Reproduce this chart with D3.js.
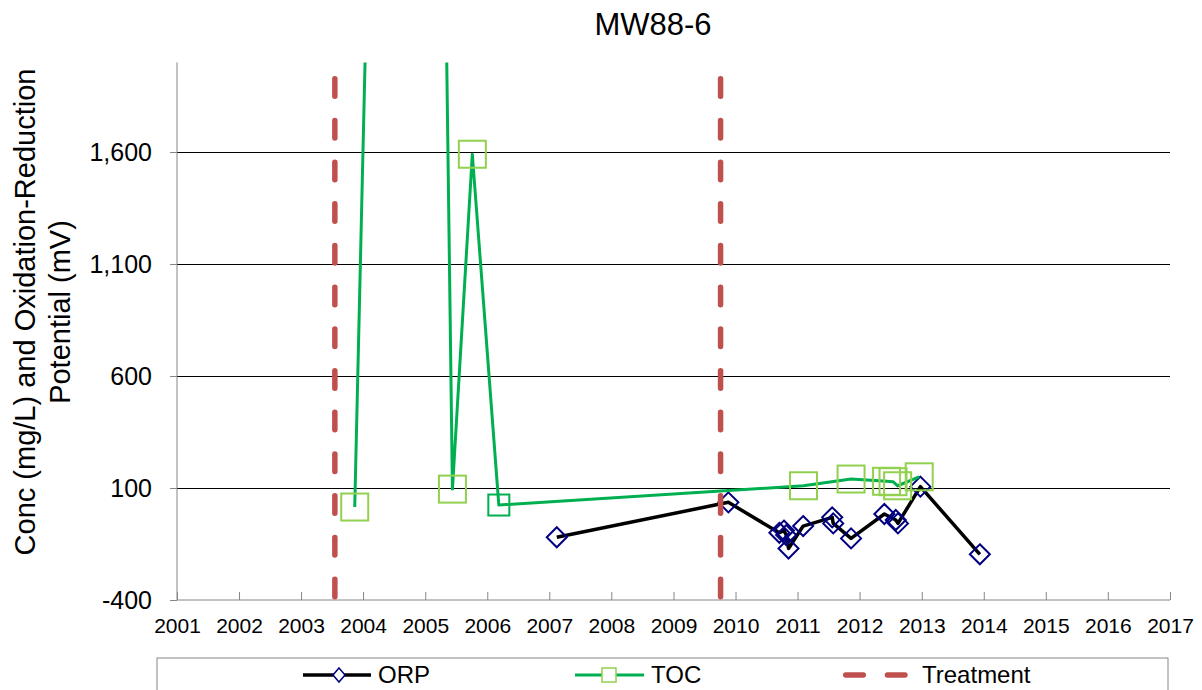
<!DOCTYPE html>
<html>
<head>
<meta charset="utf-8">
<script src="https://cdn.jsdelivr.net/npm/d3@7"></script>
<style>
  body { margin: 0; background: #fff; }
  svg { font-family: "Liberation Sans", Arial, sans-serif; }
</style>
</head>
<body>
<div id="chart"></div>
<script>
// ORP readings (mV)
const orpDates = ["2007-02-14", "2009-11-20", "2010-09-16", "2010-10-13", "2010-10-26", "2010-11-09",
    "2011-02-03", "2011-07-24", "2011-07-30", "2011-11-12", "2012-05-26", "2012-08-01",
    "2012-08-14", "2012-12-24", "2013-12-09"];
const orpValues = [-120, 36, -100, -90, -110, -170, -70, -31, -58, -125, -16, -43, -58, 106, -196];

// TOC concentrations (mg/L)
const tocDates = ["2003-11-13", "2004-11-13", "2005-06-10", "2005-10-05", "2006-03-10", "2011-02-05",
    "2011-11-12", "2012-06-08", "2012-07-16", "2012-08-12", "2012-12-17"];
const tocValues = [15, 12000, 95, 1590, 24, 110, 140, 130, 128, 110, 150];

// treatment events
const treatmentDates = ["2003-07-19", "2009-10-05"];

const yTicks = [-400, 100, 600, 1100, 1600];
const yDomain = [-400, 2000];
const xDomain = ["2001-01-01", "2017-01-01"];
const legendLabels = ["ORP", "TOC", "Treatment"];

const parse = d3.timeParse("%Y-%m-%d");
const orp = orpDates.map((d, i) => ({ date: parse(d), value: orpValues[i] }));
const toc = tocDates.map((d, i) => ({ date: parse(d), value: tocValues[i] }));

const width = 1202, height = 690;
const margin = { top: 62.4, right: 32, bottom: 90, left: 177 };
const innerW = width - margin.left - margin.right;
const innerH = height - margin.top - margin.bottom;

const svg = d3.select("#chart").append("svg")
    .attr("width", width)
    .attr("height", height);

const g = svg.append("g")
    .attr("transform", `translate(${margin.left},${margin.top})`);

const x = d3.scaleTime()
    .domain(xDomain.map(parse))
    .range([0, innerW]);

const y = d3.scaleLinear()
    .domain(yDomain)
    .range([innerH, 0]);

g.append("clipPath").attr("id", "plot-clip")
    .append("rect")
    .attr("x", -2).attr("y", 0)
    .attr("width", innerW + 4).attr("height", innerH);

// gridlines
g.append("g")
    .selectAll("line")
    .data(yTicks.filter(t => t !== yDomain[0]))
    .join("line")
    .attr("x1", 0).attr("x2", innerW)
    .attr("y1", d => y(d)).attr("y2", d => y(d))
    .attr("stroke", "#000")
    .attr("stroke-width", 1)
    .attr("shape-rendering", "crispEdges");

// hyphen instead of unicode minus, like the original
const fmt = d => d3.format(",")(d).replace("\u2212", "-");

// y axis
const yAxis = g.append("g")
    .call(d3.axisLeft(y).tickValues(yTicks).tickFormat(fmt).tickSize(7).tickPadding(18));
yAxis.select(".domain").attr("stroke", "#868686").attr("d", `M0,0V${innerH}`);
yAxis.selectAll(".tick line").attr("stroke", "#868686");
yAxis.selectAll(".tick text")
    .attr("font-size", 25)
    .attr("fill", "#000")
    .attr("font-family", "Liberation Sans, Arial, sans-serif");

// x axis
const xAxis = g.append("g")
    .attr("transform", `translate(0,${innerH})`)
    .call(d3.axisBottom(x).ticks(d3.timeYear.every(1)).tickFormat(d3.timeFormat("%Y"))
        .tickSize(-8).tickPadding(18));
xAxis.select(".domain").attr("stroke", "#868686").attr("d", `M0,0H${innerW}`);
xAxis.selectAll(".tick line").attr("stroke", "#868686");
xAxis.selectAll(".tick text")
    .attr("font-size", 21)
    .attr("fill", "#000")
    .attr("font-family", "Liberation Sans, Arial, sans-serif");

const plot = g.append("g").attr("clip-path", "url(#plot-clip)");

// ORP series
plot.append("path")
    .datum(orp)
    .attr("fill", "none")
    .attr("stroke", "#000")
    .attr("stroke-width", 3.5)
    .attr("stroke-linejoin", "round")
    .attr("d", d3.line().x(d => x(d.date)).y(d => y(d.value)));

plot.selectAll(".orp-marker")
    .data(orp)
    .join("path")
    .attr("class", "orp-marker")
    .attr("transform", d => `translate(${x(d.date)},${y(d.value)})`)
    .attr("d", "M0,-10L10,0L0,10L-10,0Z")
    .attr("fill", "none")
    .attr("stroke", "#000080")
    .attr("stroke-width", 2);

// TOC series
plot.append("path")
    .datum(toc)
    .attr("fill", "none")
    .attr("stroke", "#00b050")
    .attr("stroke-width", 3)
    .attr("stroke-linejoin", "round")
    .attr("d", d3.line().x(d => x(d.date)).y(d => y(d.value)));

plot.selectAll(".toc-marker")
    .data(toc)
    .join("rect")
    .attr("class", "toc-marker")
    .each(function(d, i) {
        // the 2006 sample is drawn smaller and darker in the original
        const s = i === 4 ? 21 : 27;
        d3.select(this)
            .attr("x", x(d.date) - s / 2)
            .attr("y", y(d.value) - s / 2)
            .attr("width", s)
            .attr("height", s)
            .attr("stroke", i === 4 ? "#00b050" : "#92d050");
    })
    .attr("fill", "none")
    .attr("stroke-width", 2);

// Treatment lines
plot.selectAll(".treatment")
    .data(treatmentDates.map(parse))
    .join("line")
    .attr("class", "treatment")
    .attr("x1", d => x(d)).attr("x2", d => x(d))
    .attr("y1", y(yDomain[1])).attr("y2", y(yDomain[0]))
    .attr("stroke", "#c0504d")
    .attr("stroke-width", 5.5)
    .attr("stroke-linecap", "round")
    .attr("stroke-dasharray", "17.5,24.2")
    .attr("stroke-dashoffset", 25.35);

// title
svg.append("text")
    .attr("x", 653)
    .attr("y", 35)
    .attr("text-anchor", "middle")
    .attr("font-size", 31)
    .text("MW88-6");

// y axis title
const yTitle = svg.append("text")
    .attr("transform", "translate(0,312) rotate(-90)")
    .attr("text-anchor", "middle")
    .attr("font-size", 29);
yTitle.append("tspan").attr("x", 0).attr("y", 35).text("Conc (mg/L) and Oxidation-Reduction");
yTitle.append("tspan").attr("x", 0).attr("y", 70).text("Potential (mV)");

// legend
const legend = svg.append("g");
legend.append("rect")
    .attr("x", 157).attr("y", 658)
    .attr("width", 1011).attr("height", 60)
    .attr("fill", "#fff")
    .attr("stroke", "#868686")
    .attr("stroke-width", 1);

const ly = 675;
// ORP
legend.append("line")
    .attr("x1", 303).attr("x2", 371).attr("y1", ly).attr("y2", ly)
    .attr("stroke", "#000").attr("stroke-width", 3.5);
legend.append("path")
    .attr("transform", `translate(339,${ly})`)
    .attr("d", "M0,-7L6,0L0,7L-6,0Z")
    .attr("fill", "#fff")
    .attr("stroke", "#000080").attr("stroke-width", 1.5);
// TOC
legend.append("line")
    .attr("x1", 575).attr("x2", 644).attr("y1", ly).attr("y2", ly)
    .attr("stroke", "#00b050").attr("stroke-width", 3);
legend.append("rect")
    .attr("x", 602).attr("y", ly - 7).attr("width", 14).attr("height", 14)
    .attr("fill", "#fff")
    .attr("stroke", "#92d050").attr("stroke-width", 1.5);
// Treatment
legend.append("line")
    .attr("x1", 845.75).attr("x2", 905).attr("y1", ly).attr("y2", ly)
    .attr("stroke", "#c0504d").attr("stroke-width", 5.5)
    .attr("stroke-linecap", "round")
    .attr("stroke-dasharray", "17.5,24.2");

legend.selectAll(".legend-label")
    .data(legendLabels)
    .join("text")
    .attr("class", "legend-label")
    .attr("x", (d, i) => [378, 651, 922][i])
    .attr("y", ly)
    .attr("dy", "0.35em")
    .attr("font-size", 24)
    .text(d => d);
</script>
</body>
</html>
